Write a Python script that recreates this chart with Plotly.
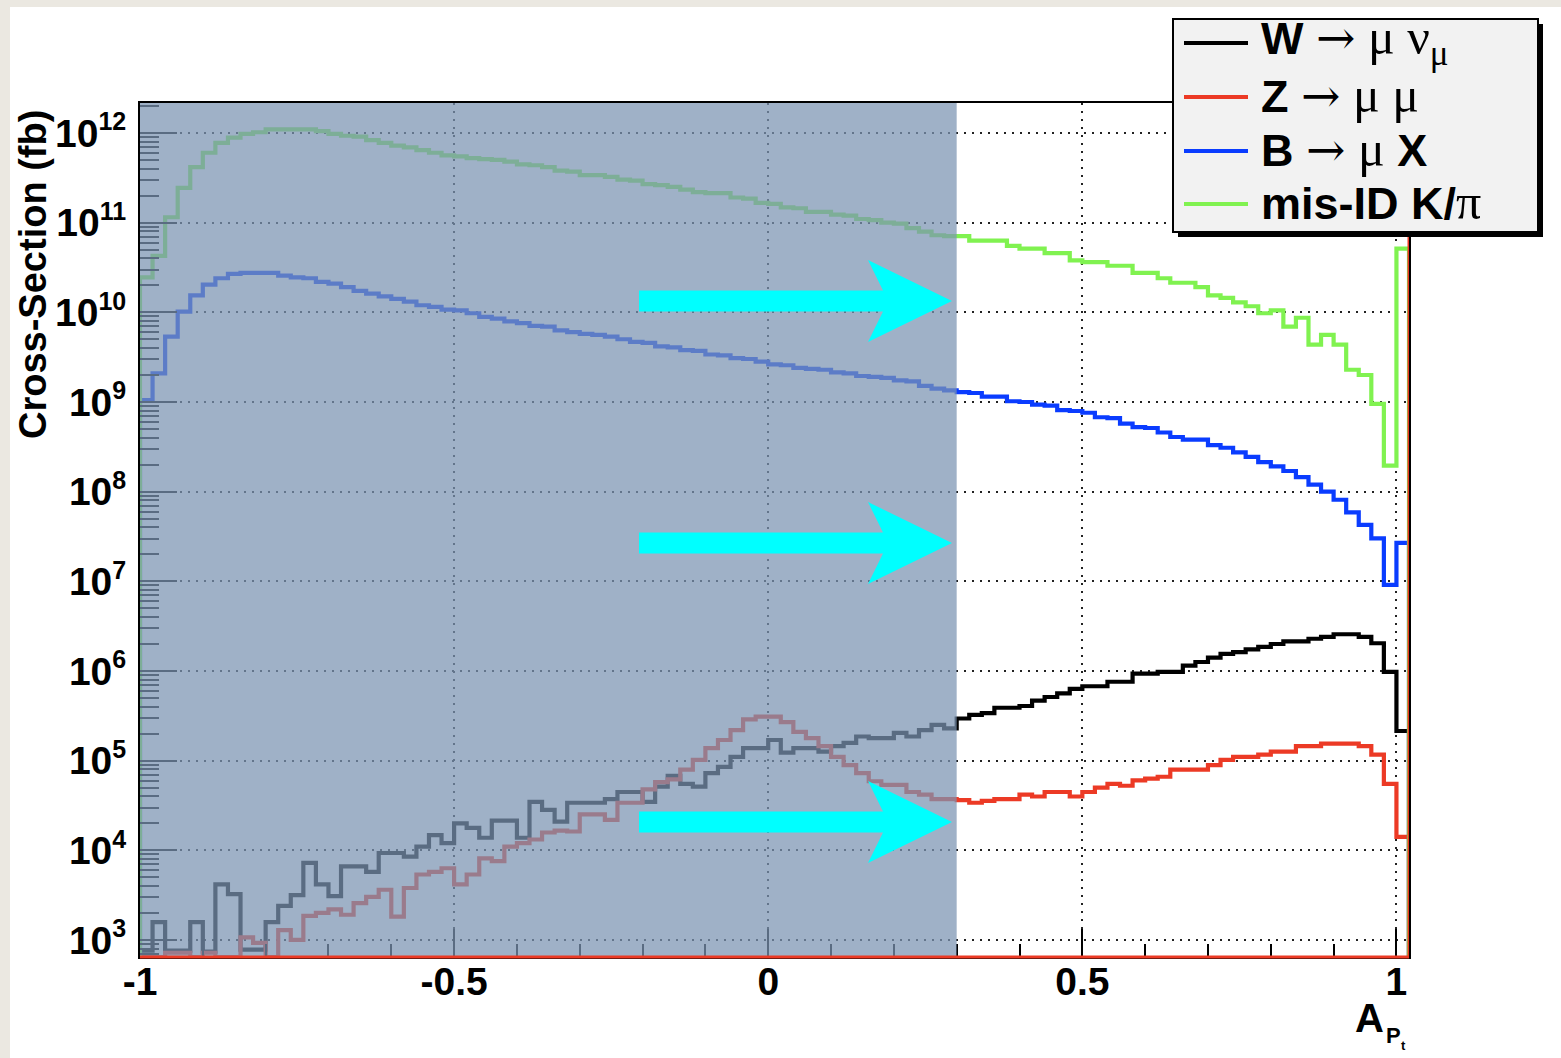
import plotly.graph_objects as go

# ---------------- data ----------------
# 101 bins of width 0.02 from -1.00 to 1.02 ; values in fb (0 = empty bin)
x_min, x_max, bin_width = -1.0, 1.02, 0.02
n_bins = 101

w_to_munu = [
    7.6e2, 1.58e3, 7.6e2, 7.6e2, 1.58e3, 7.4e2, 4.17e3, 3.24e3, 7.8e2, 7.8e2,
    1.58e3, 2.40e3, 3.16e3, 7.24e3, 4.17e3, 3.09e3, 6.61e3, 6.61e3, 5.75e3, 9.33e3,
    9.33e3, 8.51e3, 1.10e4, 1.48e4, 1.20e4, 2.00e4, 1.78e4, 1.38e4, 2.14e4, 2.14e4,
    1.38e4, 3.47e4, 2.82e4, 2.09e4, 3.39e4, 3.39e4, 3.39e4, 3.72e4, 4.47e4, 4.47e4,
    3.47e4, 5.13e4, 6.76e4, 5.50e4, 5.13e4, 7.24e4, 8.51e4, 1.10e5, 1.38e5, 1.38e5,
    1.70e5, 1.23e5, 1.38e5, 1.38e5, 1.26e5, 1.45e5, 1.58e5, 1.86e5, 1.78e5, 1.78e5,
    2.04e5, 1.86e5, 2.19e5, 2.51e5, 2.29e5, 2.95e5, 3.24e5, 3.39e5, 3.89e5, 3.89e5,
    4.07e5, 4.68e5, 5.13e5, 5.62e5, 6.31e5, 6.76e5, 6.76e5, 7.59e5, 7.59e5, 9.33e5,
    9.33e5, 9.77e5, 9.77e5, 1.15e6, 1.26e6, 1.41e6, 1.55e6, 1.62e6, 1.74e6, 1.86e6,
    2.00e6, 2.14e6, 2.14e6, 2.29e6, 2.40e6, 2.57e6, 2.57e6, 2.40e6, 2.04e6, 9.77e5,
    2.14e5,
]

z_to_mumu = [
    0, 0, 7.2e2, 7.2e2, 0, 7.2e2, 0, 0, 1.07e3, 9.3e2,
    0, 1.29e3, 1.00e3, 1.86e3, 2.00e3, 2.19e3, 1.91e3, 2.57e3, 3.02e3, 3.63e3,
    1.82e3, 3.80e3, 5.37e3, 5.75e3, 6.31e3, 4.17e3, 5.37e3, 8.13e3, 7.59e3, 1.10e4,
    1.20e4, 1.32e4, 1.58e4, 1.66e4, 1.62e4, 2.51e4, 2.51e4, 2.19e4, 3.39e4, 3.39e4,
    4.79e4, 5.75e4, 6.17e4, 7.94e4, 1.02e5, 1.38e5, 1.70e5, 2.19e5, 2.88e5, 3.09e5,
    3.09e5, 2.69e5, 2.09e5, 1.78e5, 1.45e5, 1.10e5, 8.91e4, 7.24e4, 5.89e4, 5.37e4,
    5.37e4, 4.47e4, 4.17e4, 3.72e4, 3.72e4, 3.63e4, 3.39e4, 3.55e4, 3.72e4, 3.72e4,
    4.17e4, 3.98e4, 4.47e4, 4.47e4, 3.98e4, 4.47e4, 5.01e4, 5.50e4, 5.25e4, 6.03e4,
    6.31e4, 6.61e4, 7.94e4, 7.94e4, 7.94e4, 8.91e4, 1.02e5, 1.10e5, 1.10e5, 1.17e5,
    1.26e5, 1.26e5, 1.45e5, 1.45e5, 1.55e5, 1.55e5, 1.55e5, 1.45e5, 1.17e5, 5.50e4,
    1.41e4,
]

b_to_mux = [
    1.05e9, 2.09e9, 5.37e9, 1.02e10, 1.55e10, 2.04e10, 2.40e10, 2.69e10, 2.75e10, 2.75e10,
    2.75e10, 2.57e10, 2.45e10, 2.40e10, 2.19e10, 2.09e10, 1.91e10, 1.74e10, 1.62e10, 1.51e10,
    1.41e10, 1.32e10, 1.20e10, 1.15e10, 1.07e10, 1.05e10, 9.77e9, 8.91e9, 8.51e9, 7.94e9,
    7.59e9, 7.08e9, 6.92e9, 6.31e9, 6.03e9, 5.75e9, 5.62e9, 5.37e9, 5.01e9, 4.68e9,
    4.57e9, 4.17e9, 4.07e9, 3.80e9, 3.72e9, 3.39e9, 3.31e9, 3.09e9, 3.02e9, 2.82e9,
    2.63e9, 2.57e9, 2.40e9, 2.34e9, 2.29e9, 2.14e9, 2.09e9, 1.95e9, 1.91e9, 1.86e9,
    1.74e9, 1.70e9, 1.51e9, 1.41e9, 1.35e9, 1.29e9, 1.26e9, 1.15e9, 1.15e9, 1.02e9,
    1.00e9, 9.33e8, 9.12e8, 8.13e8, 7.94e8, 7.59e8, 6.76e8, 6.61e8, 5.75e8, 5.25e8,
    5.13e8, 4.57e8, 4.07e8, 3.80e8, 3.80e8, 3.31e8, 3.09e8, 2.75e8, 2.45e8, 2.14e8,
    1.91e8, 1.70e8, 1.45e8, 1.20e8, 1.00e8, 8.13e7, 5.89e7, 4.27e7, 3.02e7, 9.12e6,
    2.69e7,
]

misid_k_pi = [
    2.45e10, 4.27e10, 1.15e11, 2.45e11, 4.17e11, 6.03e11, 7.76e11, 8.91e11, 9.77e11, 1.02e12,
    1.10e12, 1.10e12, 1.10e12, 1.10e12, 1.05e12, 9.77e11, 9.33e11, 9.12e11, 8.32e11, 7.76e11,
    7.24e11, 6.92e11, 6.46e11, 6.03e11, 5.62e11, 5.50e11, 5.25e11, 5.13e11, 5.01e11, 4.79e11,
    4.47e11, 4.37e11, 4.17e11, 3.80e11, 3.72e11, 3.39e11, 3.39e11, 3.24e11, 3.02e11, 2.95e11,
    2.69e11, 2.63e11, 2.51e11, 2.34e11, 2.19e11, 2.14e11, 2.14e11, 1.91e11, 1.86e11, 1.66e11,
    1.62e11, 1.48e11, 1.45e11, 1.32e11, 1.32e11, 1.23e11, 1.20e11, 1.10e11, 1.07e11, 1.00e11,
    9.77e10, 8.71e10, 7.94e10, 7.24e10, 7.08e10, 7.08e10, 6.31e10, 6.31e10, 6.31e10, 5.50e10,
    5.13e10, 5.13e10, 4.57e10, 4.57e10, 3.80e10, 3.63e10, 3.63e10, 3.31e10, 3.31e10, 2.75e10,
    2.75e10, 2.40e10, 2.14e10, 2.14e10, 1.91e10, 1.55e10, 1.45e10, 1.29e10, 1.17e10, 9.77e9,
    1.05e10, 6.92e9, 8.71e9, 4.37e9, 5.62e9, 4.37e9, 2.29e9, 2.00e9, 9.55e8, 1.95e8,
    5.13e10,
]

series_names = ["W", "Z", "B", "misID"]
series_values = [w_to_munu, z_to_mumu, b_to_mux, misid_k_pi]
series_colors = ["#000000", "#ec3a25", "#0a3cff", "#80f250"]
SER = "font-family:Liberation Serif;font-size:50px"
ARR = "font-family:DejaVu Serif;font-size:47px"
legend_labels = [
    f"<b>W</b> <span style='{ARR}'>\u2192</span><span style='{SER}'> \u03bc \u03bd<sub>\u03bc</sub></span>",
    f"<b>Z</b> <span style='{ARR}'>\u2192</span><span style='{SER}'> \u03bc \u03bc</span>",
    f"<b>B</b> <span style='{ARR}'>\u2192</span><span style='{SER}'> \u03bc</span> <b>X</b>",
    f"<b>mis-ID K/</b><span style='{SER}'>\u03c0</span>",
]

x_tick_vals = [-1, -0.5, 0, 0.5, 1]
x_tick_text = ["-1", "-0.5", "0", "0.5", "1"]
x_minor_vals = [-0.9, -0.8, -0.7, -0.6, -0.4, -0.3, -0.2, -0.1,
                0.1, 0.2, 0.3, 0.4, 0.6, 0.7, 0.8, 0.9]
y_decades = [3, 4, 5, 6, 7, 8, 9, 10, 11, 12]
y_tick_vals = [10 ** e for e in y_decades]
y_tick_text = [f"10<sup><span style='font-size:25px'>{e}</span></sup>" for e in y_decades]
y_minor_vals = [m * 10 ** e for e in range(2, 13) for m in range(2, 10)]
y_log_range = [2.81, 12.335]

cut_region = [-1.0, 0.3]           # shaded (rejected) region in A_Pt

# ---------------- page geometry (pixels) ----------------
W_PX, H_PX = 1561, 1058
M_L, M_R, M_T, M_B = 140, 152, 103, 101
PW, PH = W_PX - M_L - M_R, H_PX - M_T - M_B


def pxx(p):
    return (p - M_L) / PW


def pxy(p):
    return (H_PX - M_B - p) / PH


# ---------------- figure ----------------
bin_edges = [round(x_min + bin_width * i, 4) for i in range(n_bins + 1)]
floor_val = 10 ** y_log_range[0]

fig = go.Figure()
for name, vals, col in zip(series_names, series_values, series_colors):
    ys = [v if v > 0 else floor_val for v in vals]
    xs = [bin_edges[0]] + bin_edges[:-1] + [bin_edges[-1], bin_edges[-1]]
    yy = [floor_val] + ys + [ys[-1], floor_val]
    fig.add_trace(go.Scatter(x=xs, y=yy, mode="lines", name=name,
                             line=dict(color=col, width=4.2, shape="hv"),
                             hoverinfo="skip"))

tick_font = dict(family="Liberation Sans", size=39, color="black", weight="bold")

fig.update_layout(
    width=W_PX, height=H_PX,
    margin=dict(l=M_L, r=M_R, t=M_T, b=M_B),
    paper_bgcolor="white", plot_bgcolor="white",
    showlegend=False,
    xaxis=dict(
        range=[x_min, x_max], tickmode="array", tickvals=x_tick_vals, ticktext=x_tick_text,
        ticks="inside", ticklen=28, tickwidth=2, tickcolor="black",
        minor=dict(tickmode="array", tickvals=x_minor_vals, ticks="inside",
                   ticklen=13, tickwidth=2, tickcolor="black", showgrid=False),
        showgrid=True, gridcolor="#222222", gridwidth=2, griddash="2px,6px",
        showline=True, mirror=True, linecolor="black", linewidth=2,
        zeroline=False, tickfont=tick_font, ticklabelstandoff=-11,
    ),
    yaxis=dict(
        type="log", range=y_log_range, tickmode="array", tickvals=y_tick_vals,
        ticktext=y_tick_text,
        ticks="inside", ticklen=37, tickwidth=2, tickcolor="black",
        minor=dict(tickmode="array", tickvals=y_minor_vals, ticks="inside", ticklen=19,
                   tickwidth=2, tickcolor="black", showgrid=False),
        showgrid=True, gridcolor="#222222", gridwidth=2, griddash="2px,6px",
        showline=True, mirror=True, linecolor="black", linewidth=2,
        zeroline=False, tickfont=tick_font, ticklabelstandoff=4,
    ),
)

shapes = []
# light paper border of the original picture
shapes.append(dict(type="rect", xref="paper", yref="paper", x0=pxx(0), x1=pxx(10),
                   y0=pxy(H_PX), y1=pxy(0), fillcolor="#ebe8e1", line=dict(width=0),
                   layer="below"))
shapes.append(dict(type="rect", xref="paper", yref="paper", x0=pxx(0), x1=pxx(W_PX),
                   y0=pxy(7), y1=pxy(0), fillcolor="#ebe8e1", line=dict(width=0),
                   layer="below"))
# shaded region
shapes.append(dict(type="rect", xref="x", yref="paper", x0=cut_region[0], x1=cut_region[1],
                   y0=0, y1=1, fillcolor="rgba(123,148,178,0.73)", line=dict(width=0),
                   layer="above"))

# cyan arrows (pixel outline relative to tip: dx, dy)
arrow_outline = [(-313, -10.5), (-69, -10.5), (-84, -41), (0, 0), (-84, 41), (-69, 10.5), (-313, 10.5)]
arrow_tips_px = [(952, 301), (952, 543), (952, 822)]
for tx, ty in arrow_tips_px:
    pts = [(pxx(tx + dx), pxy(ty + dy)) for dx, dy in arrow_outline]
    path = "M " + " L ".join(f"{a:.5f},{b:.5f}" for a, b in pts) + " Z"
    shapes.append(dict(type="path", xref="paper", yref="paper", path=path,
                       fillcolor="#00ffff", line=dict(width=0), layer="above"))

# red edge lines of the Z histogram
shapes.append(dict(type="line", xref="paper", yref="paper", x0=0, x1=1, y0=0, y1=0,
                   line=dict(color=series_colors[1], width=3), layer="above"))
shapes.append(dict(type="line", xref="x", yref="paper", x0=x_max, x1=x_max, y0=0, y1=1,
                   line=dict(color=series_colors[1], width=3), layer="above"))

# legend box
lg_x0, lg_x1, lg_y0, lg_y1 = 1173, 1538, 19, 232
shapes.append(dict(type="rect", xref="paper", yref="paper",
                   x0=pxx(lg_x0 + 5), x1=pxx(lg_x1 + 5), y0=pxy(lg_y1 + 5), y1=pxy(lg_y0 + 5),
                   fillcolor="black", line=dict(width=0), layer="above"))
shapes.append(dict(type="rect", xref="paper", yref="paper",
                   x0=pxx(lg_x0), x1=pxx(lg_x1), y0=pxy(lg_y1), y1=pxy(lg_y0),
                   fillcolor="#f2f2f2", line=dict(color="black", width=2), layer="above"))
legend_rows_px = [43, 97, 151, 204]
annotations = []
for row, col, lab in zip(legend_rows_px, series_colors, legend_labels):
    shapes.append(dict(type="line", xref="paper", yref="paper",
                       x0=pxx(1184), x1=pxx(1248), y0=pxy(row), y1=pxy(row),
                       line=dict(color=col, width=4), layer="above"))
    annotations.append(dict(xref="paper", yref="paper", x=pxx(1259), y=pxy(row - 2),
                            xanchor="left", yanchor="middle", showarrow=False, text=lab,
                            font=dict(family="Liberation Sans", size=45, color="black")))

# axis titles
annotations.append(dict(xref="paper", yref="paper", x=pxx(33), y=pxy(275), textangle=-90,
                        xanchor="center", yanchor="middle", showarrow=False,
                        text="<b>Cross-Section (fb)</b>",
                        font=dict(family="Liberation Sans", size=38, color="black")))
annotations.append(dict(xref="paper", yref="paper", x=pxx(1386), y=pxy(1018),
                        xanchor="right", yanchor="middle", showarrow=False, text="<b>A</b>",
                        font=dict(family="Liberation Sans", size=40, color="black")))
annotations.append(dict(xref="paper", yref="paper", x=pxx(1384), y=pxy(1035),
                        xanchor="left", yanchor="middle", showarrow=False, text="<b>P</b>",
                        font=dict(family="Liberation Sans", size=22, color="black")))
annotations.append(dict(xref="paper", yref="paper", x=pxx(1399), y=pxy(1045),
                        xanchor="left", yanchor="middle", showarrow=False, text="<b>t</b>",
                        font=dict(family="Liberation Sans", size=13, color="black")))

fig.update_layout(shapes=shapes, annotations=annotations)
fig.write_html("out.html")
